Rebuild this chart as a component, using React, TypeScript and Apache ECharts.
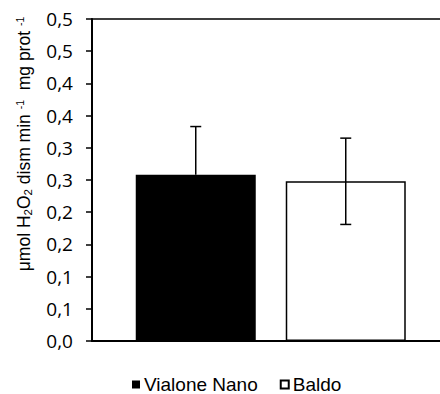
import React, { useEffect, useRef } from "react";
import * as echarts from "echarts";

const CATEGORIES = [""];
const SERIES_NAMES = ["Vialone Nano", "Baldo"];
const MEANS = [0.258, 0.248];
const ERRORS = [0.075, 0.067];
const TICK_LABELS = ["0,0", "0,1", "0,1", "0,2", "0,2", "0,3", "0,3", "0,4", "0,4", "0,5", "0,5"];
const FILLS = ["#000000", "#ffffff"];

export default function App() {
  const ref = useRef<HTMLDivElement>(null);
  useEffect(() => {
    if (!ref.current) return;
    const chart = echarts.init(ref.current, null, { renderer: "svg" });
    const barWidth = 120;
    const centerOffset = 75; // bar width + gap, halved
    const barSeries = SERIES_NAMES.map((name, i) => ({
      name,
      type: "bar",
      barWidth,
      barGap: "25%",
      data: [MEANS[i]],
      itemStyle: {
        color: FILLS[i],
        borderColor: "#000",
        borderWidth: i === 0 ? 0 : 1.5,
      },
      z: 2,
    }));
    const errData = MEANS.map((m, i) => [i, m, ERRORS[i]]);
    chart.setOption({
      animation: false,
      grid: { left: 92, top: 19, width: 357.5, bottom: 53, containLabel: false, outerBoundsMode: "none" },
      legend: {
        data: SERIES_NAMES,
        left: 127,
        top: 370,
        icon: "rect",
        itemWidth: 8,
        itemHeight: 8,
        itemGap: 22,
        textStyle: { fontFamily: "Liberation Sans", fontSize: 19, color: "#000", padding: [0, 0, 0, -1] },
      },
      xAxis: [
        {
          type: "category",
          data: CATEGORIES,
          axisLine: { lineStyle: { color: "#000", width: 2 } },
          axisTick: { show: false },
          axisLabel: { show: false },
        },
        {
          type: "category",
          data: CATEGORIES,
          position: "top",
          axisLine: { lineStyle: { color: "#000", width: 1.6 } },
          axisTick: { show: false },
          axisLabel: { show: false },
        },
      ],
      yAxis: {
        type: "value",
        min: 0,
        max: 0.5,
        interval: 0.05,
        splitLine: { show: false },
        axisLine: { show: true, lineStyle: { color: "#000", width: 2 } },
        axisTick: { show: true, inside: false, length: 6, lineStyle: { color: "#000", width: 1.5 } },
        axisLabel: {
          margin: 19,
          color: "#000",
          fontFamily: "Open Sans",
          fontSize: 19,
          formatter: (_v: number, idx: number) => TICK_LABELS[idx] ?? "",
        },
      },
      graphic: [
        {
          type: "text",
          x: 24,
          y: 144,
          rotation: Math.PI / 2,
          style: {
            text: "{n|μmol H}{s|2}{n|O}{s|2}{n| dism min }{p|-1}{n|  mg prot }{p|-1}",
            align: "center",
            verticalAlign: "middle",
            fill: "#000",
            fontFamily: "Liberation Sans",
            rich: {
              n: { fontSize: 17.5, lineHeight: 20, fontFamily: "Liberation Sans", fill: "#000" },
              s: { fontSize: 11.5, lineHeight: 11, verticalAlign: "bottom", fontFamily: "Liberation Sans", fill: "#000" },
              p: { fontSize: 10.5, lineHeight: 10, verticalAlign: "top", fontFamily: "Liberation Sans", fill: "#000" },
            },
          },
        },
      ],
      series: [
        ...barSeries,
        {
          type: "custom",
          name: "err",
          data: errData,
          z: 5,
          renderItem: (params: any, api: any) => {
            const idx = api.value(0);
            const m = api.value(1);
            const e = api.value(2);
            const base = api.coord([0, m]);
            const x = base[0] + (idx === 0 ? -centerOffset : centerOffset);
            const yTop = api.coord([0, m + e])[1];
            const yBot = api.coord([0, m - e])[1];
            const yMid = base[1];
            const cap = 5.5;
            const style = { stroke: "#000", lineWidth: 1.5 };
            const children: any[] = [
              { type: "line", shape: { x1: x, y1: yTop, x2: x, y2: idx === 0 ? yMid : yBot }, style },
              { type: "line", shape: { x1: x - cap, y1: yTop, x2: x + cap, y2: yTop }, style },
            ];
            if (idx !== 0) {
              children.push({ type: "line", shape: { x1: x - cap, y1: yBot, x2: x + cap, y2: yBot }, style });
            }
            return { type: "group", children };
          },
        },
      ],
    });
    return () => chart.dispose();
  }, []);
  return <div ref={ref} style={{ width: 440, height: 394, position: "absolute", left: 0, top: 0 }} />;
}
